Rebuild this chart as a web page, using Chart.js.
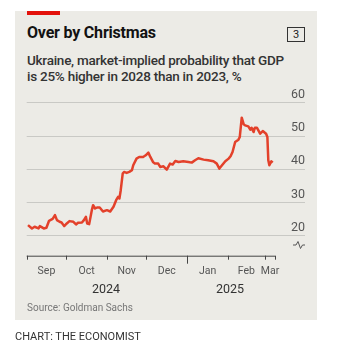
<!DOCTYPE html>
<html>
<head>
<meta charset="utf-8">
<script src="https://cdn.jsdelivr.net/npm/chart.js@4"></script>
<style>
  body { margin: 0; background: #fff; width: 337px; height: 350px; position: relative; overflow: hidden; font-family: Roboto, "Noto Sans", sans-serif; }
  .abs { position: absolute; }
  #panel { left: 15px; top: 11px; width: 302px; height: 309px; background: #ecebe6; }
  #redbar { left: 27px; top: 11px; width: 33px; height: 4px; background: #e3120b; }
  #title { left: 27px; top: 24px; font-weight: 700; font-size: 16px; line-height: 18px; color: #121212; letter-spacing: -0.2px; }
  #num { left: 287px; top: 27px; width: 16px; height: 13px; border: 1px solid #333; font-size: 11px; line-height: 13px; text-align: center; color: #222; }
  #subtitle { left: 27px; top: 52px; width: 285px; font-weight: 500; font-size: 13.5px; line-height: 16px; color: #333; letter-spacing: -0.25px; white-space: nowrap; }
  #source { left: 27px; top: 302px; font-size: 10px; line-height: 12px; color: #777; }
  #credit { left: 15px; top: 331px; font-size: 11px; line-height: 12px; color: #333; }
  canvas { position: absolute; left: 0; top: 0; }
</style>
</head>
<body>
<div class="abs" id="panel"></div>
<div class="abs" id="redbar"></div>
<div class="abs" id="title">Over by Christmas</div>
<div class="abs" id="num">3</div>
<div class="abs" id="subtitle">Ukraine, market-implied probability that GDP<br>is 25% higher in 2028 than in 2023, %</div>
<canvas id="chart" width="337" height="350"></canvas>
<svg class="abs" style="left:0;top:0" width="337" height="350">
  <path d="M293 245 L296 245 L298 241.5 L300.5 248.5 L302.5 245 L305 245" fill="none" stroke="#555" stroke-width="1"/>
</svg>
<div class="abs" id="source">Source: Goldman Sachs</div>
<div class="abs" id="credit">CHART: THE ECONOMIST</div>
<script>
// days since 1 Sep 2024
const days = [1, 4, 6, 9, 10, 13, 15, 17, 19, 20, 21.5, 23, 25, 26.5, 28.5, 30.5, 32.5, 35.5, 37.5, 39, 42, 43.5, 45, 46, 47.5, 49.5, 50.5, 52, 53.5, 55.5, 58, 61, 63.5, 66, 68, 69.5, 70.5, 71.5, 73, 74, 76, 78, 80, 81, 83.5, 85.5, 88.5, 90.5, 92.5, 94, 96, 97.5, 100, 101.5, 104, 106.5, 109, 111, 113, 115.5, 119, 123, 125.5, 128, 130.5, 134.5, 138, 142, 144.5, 146.5, 148.5, 151, 153.5, 155, 156.5, 158.5, 161, 162, 163.5, 165, 166, 168.5, 170, 171, 172.5, 173.5, 175, 177.5, 179.5, 182, 183, 183.7, 184.5, 186, 187];
const probability = [23.2, 22.2, 22.7, 22.2, 22.9, 22.2, 22.4, 24.5, 24.9, 25.2, 26.2, 24.7, 24.2, 24.0, 22.9, 23.7, 24.4, 24.2, 23.4, 23.9, 24.0, 24.7, 25.7, 23.7, 23.5, 27.7, 29.2, 28.2, 28.5, 28.5, 27.3, 27.7, 27.3, 28.7, 30.7, 31.7, 31.2, 33.7, 38.7, 39.2, 38.9, 39.2, 39.7, 41.2, 43.2, 43.7, 43.7, 44.2, 45.0, 43.7, 42.2, 41.7, 41.7, 40.7, 40.9, 39.9, 41.7, 41.4, 42.5, 42.2, 42.4, 42.2, 42.0, 42.7, 43.3, 42.9, 42.7, 42.4, 41.7, 40.2, 41.2, 42.4, 43.2, 43.9, 45.2, 48.2, 48.9, 49.7, 55.5, 53.5, 53.2, 52.9, 51.9, 52.5, 51.2, 52.5, 52.5, 50.7, 51.5, 50.7, 49.7, 42.7, 41.2, 42.4, 42.0];

const monthStarts = [0, 30, 61, 91, 122, 153, 181, 188.8];
const monthLabels = ['Sep', 'Oct', 'Nov', 'Dec', 'Jan', 'Feb', 'Mar'];
const monthMids = [15, 45.5, 76, 106.5, 137.5, 167, 185];
const yearLabels = ['2024', '2025'];
const yearMids = [60.3, 154.6];
const yTicks = [20, 30, 40, 50, 60];

const inkGrey = '#555';

// axis line with month tick marks, longer mark at the year break
const dateAxisLine = {
    id: 'dateAxisLine',
    afterDraw(chart) {
        const ctx = chart.ctx;
        const xs = chart.scales.x;
        const y0 = chart.chartArea.bottom;
        ctx.save();
        ctx.strokeStyle = '#444';
        ctx.lineWidth = 1;
        ctx.beginPath();
        ctx.moveTo(xs.getPixelForValue(monthStarts[0]), y0 + 0.5);
        ctx.lineTo(xs.getPixelForValue(monthStarts[monthStarts.length - 1]), y0 + 0.5);
        monthStarts.forEach(function(d) {
            const px = Math.round(xs.getPixelForValue(d)) + 0.5;
            ctx.moveTo(px, y0);
            ctx.lineTo(px, y0 + (d === 122 ? 8 : 4));
        });
        ctx.stroke();
        ctx.restore();
    }
};

new Chart(document.getElementById('chart'), {
    type: 'line',
    data: {
        datasets: [{
            data: days.map((d, i) => ({ x: d, y: probability[i] })),
            borderColor: '#e3412b',
            borderWidth: 2.5,
            pointRadius: 0,
            tension: 0,
            borderJoinStyle: 'round'
        }]
    },
    options: {
        responsive: false,
        animation: false,
        layout: { padding: { left: 26.7, right: 32, top: 101.1, bottom: 50.3 } },
        plugins: { legend: { display: false }, tooltip: { enabled: false } },
        scales: {
            x: {
                type: 'linear',
                min: 0,
                max: 211.6,
                grid: { display: false, drawTicks: false },
                border: { display: false },
                afterBuildTicks: (scale) => { scale.ticks = monthMids.map(v => ({ value: v })); },
                afterFit: (scale) => { scale.height = 24; },
                ticks: {
                    autoSkip: false,
                    maxRotation: 0,
                    padding: 9.5,
                    color: inkGrey,
                    font: { family: 'Roboto', size: 10.5 },
                    callback: (v, i) => monthLabels[i]
                }
            },
            x2: {
                type: 'linear',
                position: 'bottom',
                min: 0,
                max: 211.6,
                grid: { display: false, drawTicks: false },
                border: { display: false },
                afterBuildTicks: (scale) => { scale.ticks = yearMids.map(v => ({ value: v })); },
                afterFit: (scale) => { scale.height = 20; },
                ticks: {
                    autoSkip: false,
                    maxRotation: 0,
                    padding: 3,
                    color: '#333',
                    font: { family: 'Roboto', size: 12.5 },
                    callback: (v, i) => yearLabels[i]
                }
            },
            y: {
                position: 'right',
                min: 14,
                max: 60.5,
                afterBuildTicks: (scale) => { scale.ticks = yTicks.map(v => ({ value: v })); },
                afterFit: (scale) => { scale.width = 0; },
                grid: { color: '#c9c9c5', lineWidth: 1, drawTicks: false },
                border: { display: false },
                ticks: {
                    mirror: true,
                    padding: 0,
                    labelOffset: -8,
                    color: inkGrey,
                    font: { family: 'Roboto', size: 12.5 }
                }
            }
        }
    },
    plugins: [dateAxisLine]
});
</script>
</body>
</html>
